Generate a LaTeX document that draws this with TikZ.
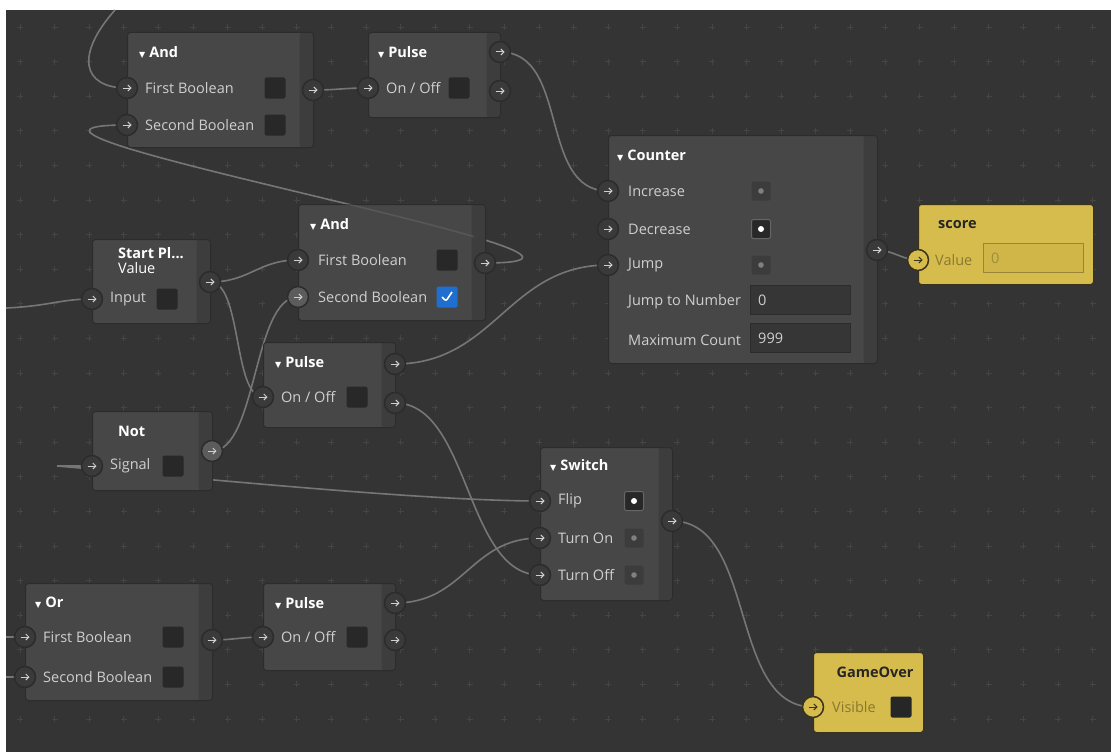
\documentclass[tikz,border=0pt]{standalone}
\usepackage{fontspec}
\setmainfont{Open Sans}
\newfontfamily\glyphfont{DejaVu Sans}
\usetikzlibrary{
    positioning,
    arrows.meta,
    backgrounds,
}
\definecolor{canvas}{HTML}{343434}
\definecolor{gridmark}{HTML}{454545}
\definecolor{nodefill}{HTML}{474747}
\definecolor{nodestrip}{HTML}{3D3D3D}
\definecolor{nodeedge}{HTML}{2C2C2C}
\definecolor{boxdark}{HTML}{282828}
\definecolor{labeltext}{HTML}{CFCFCF}
\definecolor{wiregray}{HTML}{767676}
\definecolor{portfill}{HTML}{3A3A3A}
\definecolor{portlit}{HTML}{5C5C5C}
\definecolor{varyellow}{HTML}{D6BC4C}
\definecolor{varfield}{HTML}{D0B548}
\definecolor{varedge}{HTML}{3A331C}
\definecolor{vartext}{HTML}{8A7830}
\definecolor{checkblue}{HTML}{1F6FD1}
\pgfdeclarelayer{wires}
\pgfsetlayers{background,wires,main}
\newcommand{\tri}{{\glyphfont\fontsize{8}{8}\selectfont ▼}\hspace{4pt}}
\tikzset{
    % Block styles
    block/.style={rectangle, draw=nodeedge, fill=nodefill, rounded corners=3pt,
                  anchor=north west, inner sep=0pt, line width=1pt,
                  path picture={\fill[nodestrip] ([xshift=-14pt]path picture bounding box.north east)
                                rectangle (path picture bounding box.south east);}},
    var block/.style={rectangle, draw=varedge, fill=varyellow, rounded corners=3pt,
                      anchor=north west, inner sep=0pt, line width=1pt},
    % Text styles
    title/.style={anchor=west, inner sep=0pt, text=white,
                  font=\fontsize{14.5}{16}\selectfont\bfseries},
    lbl/.style={anchor=west, inner sep=0pt, text=labeltext,
                font=\fontsize{14.5}{16}\selectfont},
    var title/.style={title, text=black!85},
    var lbl/.style={lbl, text=vartext},
    % Port styles
    port/.style={circle, draw=nodeedge, fill=portfill, line width=1.5pt,
                 minimum size=21pt, inner sep=0pt,
                 path picture={\draw[#1, line width=1pt, -{Straight Barb[length=3pt]}]
                     ([xshift=-4.5pt]path picture bounding box.center)
                     -- ([xshift=4.5pt]path picture bounding box.center);}},
    port/.default=labeltext,
    lit port/.style={port, fill=portlit},
    var port/.style={port=varedge, fill=varyellow, draw=varedge},
    % Input widgets
    check/.style={rectangle, fill=boxdark, rounded corners=2pt,
                  minimum size=21pt, inner sep=0pt},
    check on/.style={check, fill=checkblue,
                     path picture={\draw[white, line width=1.6pt]
                         ([shift={(-5,0)}]path picture bounding box.center)
                         -- ([shift={(-1,4)}]path picture bounding box.center)
                         -- ([shift={(5,-5)}]path picture bounding box.center);}},
    flag/.style={rectangle, fill=#1, rounded corners=2pt, minimum size=19pt, inner sep=0pt},
    flag off/.style={flag=nodefill!85!black,
                     path picture={\fill[gray] (path picture bounding box.center) circle (2.8pt);}},
    flag on/.style={flag=boxdark, draw=black!60, line width=1pt,
                    path picture={\fill[white] (path picture bounding box.center) circle (3pt);}},
    field/.style={rectangle, draw=nodeedge, fill=boxdark!55!nodefill, anchor=west,
                  minimum height=29pt, text width=84pt, inner xsep=8pt, align=left,
                  text=labeltext, font=\fontsize{14.5}{16}\selectfont},
    var field/.style={field, draw=varedge!40!varyellow, fill=varfield, text=vartext!70!varyellow},
    % Wire styles
    wire/.style={draw=wiregray, line width=1.6pt},
}

\begin{document}
\begin{tikzpicture}[x=1pt, y=-1pt]
    \useasboundingbox (0,0) rectangle (1111,752);

    % Canvas and grid
    \begin{pgfonlayer}{background}
        \fill[white] (0,0) rectangle (1111,752);
        \fill[canvas] (6,10) rectangle (1111,752);
        \foreach \i in {0,...,31}
            \foreach \j in {0,...,20}
                \draw[gridmark, line width=0.8pt] ({20+34.6*\i},{27+34.6*\j})
                    +(-3,0) -- +(3,0) +(0,-3) -- +(0,3);
    \end{pgfonlayer}

    % And (top)
    \node[block, minimum width=186pt, minimum height=115pt] (and1) at (127,32) {};
    \node[title] (and1title) at (139,52) {\tri And};
    \node[lbl] (and1l1) at (145,88) {First Boolean};
    \node[lbl] (and1l2) at (145,125) {Second Boolean};
    \node[check] (and1c1) at (275,88) {};
    \node[check] (and1c2) at (275,125) {};
    \node[port] (and1a) at (127,88) {};
    \node[port] (and1b) at (127,125) {};
    \node[port] (and1o) at (313,90) {};

    % Pulse (top)
    \node[block, minimum width=132pt, minimum height=85pt] (pulse1) at (368,32) {};
    \node[title] (pulse1title) at (378,52) {\tri Pulse};
    \node[lbl] (pulse1l) at (386,88) {On / Off};
    \node[check] (pulse1c) at (459,88) {};
    \node[port] (pulse1a) at (368,88) {};
    \node[port] (pulse1o1) at (500,52) {};
    \node[port] (pulse1o2) at (500,91) {};

    % Counter
    \node[block, minimum width=269pt, minimum height=228pt] (counter) at (608,135) {};
    \node[title] (countertitle) at (617,156) {\tri Counter};
    \foreach \y/\txt/\nm in {191/Increase/inc, 229/Decrease/dec, 265/Jump/jump} {
        \node[lbl] (counter\nm l) at (628,\y) {\txt};
        \node[port] (counter\nm) at (608,\y) {};
    }
    \node[flag off] (counterincf) at (761,191) {};
    \node[flag on] (counterdecf) at (761,229) {};
    \node[flag off] (counterjumpf) at (761,265) {};
    \node[lbl] (counterjtn) at (628,302) {Jump to Number};
    \node[field] (counterjtnv) at (750,300) {0};
    \node[lbl] (countermax) at (628,340) {Maximum Count};
    \node[field] (countermaxv) at (750,338) {999};
    \node[port] (countero) at (877,250) {};

    % score
    \node[var block, minimum width=175pt, minimum height=80pt] (score) at (918,204) {};
    \node[var title] (scoretitle) at (938,225) {score};
    \node[var lbl] (scorel) at (935,260) {Value};
    \node[var field] (scorev) at (983,258) {0};
    \node[var port] (scorein) at (918,260) {};

    % Start Pl... Value
    \node[block, minimum width=118pt, minimum height=84pt] (start) at (92,239) {};
    \node[title] (starttitle) at (118,253) {Start Pl...};
    \node[lbl, text=white] (startsub) at (118,268) {Value};
    \node[lbl] (startl) at (110,299) {Input};
    \node[check] (startc) at (167,299) {};
    \node[port] (starta) at (92,299) {};
    \node[port] (starto) at (210,282) {};

    % And (middle)
    \node[block, minimum width=187pt, minimum height=116pt] (and2) at (298,204) {};
    \node[title] (and2title) at (310,224) {\tri And};
    \node[lbl] (and2l1) at (318,260) {First Boolean};
    \node[lbl] (and2l2) at (318,297) {Second Boolean};
    \node[check] (and2c1) at (447,260) {};
    \node[check on] (and2c2) at (447,297) {};
    \node[port] (and2a) at (298,260) {};
    \node[lit port] (and2b) at (298,297) {};
    \node[port] (and2o) at (485,263) {};

    % Pulse (middle)
    \node[block, minimum width=132pt, minimum height=85pt] (pulse2) at (263,342) {};
    \node[title] (pulse2title) at (275,362) {\tri Pulse};
    \node[lbl] (pulse2l) at (281,397) {On / Off};
    \node[check] (pulse2c) at (357,397) {};
    \node[port] (pulse2a) at (263,397) {};
    \node[port] (pulse2o1) at (395,364) {};
    \node[port] (pulse2o2) at (395,403) {};

    % Not
    \node[block, minimum width=120pt, minimum height=79pt] (not) at (92,411) {};
    \node[title] (nottitle) at (118,431) {Not};
    \node[lbl] (notl) at (110,466) {Signal};
    \node[check] (notc) at (173,466) {};
    \node[port] (nota) at (92,466) {};
    \node[lit port] (noto) at (212,451) {};

    % Switch
    \node[block, minimum width=132pt, minimum height=153pt] (switch) at (540,447) {};
    \node[title] (switchtitle) at (550,465) {\tri Switch};
    \foreach \y/\txt/\nm in {501/Flip/flip, 538/Turn On/on, 575/Turn Off/off} {
        \node[lbl] (switch\nm l) at (558,\y) {\txt};
        \node[port] (switch\nm) at (540,\y) {};
    }
    \node[flag on] (switchflipf) at (634,501) {};
    \node[flag off] (switchonf) at (634,538) {};
    \node[flag off] (switchofff) at (634,575) {};
    \node[port] (switcho) at (672,521) {};

    % Or
    \node[block, minimum width=187pt, minimum height=117pt] (or) at (25,583) {};
    \node[title] (ortitle) at (35,603) {\tri Or};
    \node[lbl] (orl1) at (43,637) {First Boolean};
    \node[lbl] (orl2) at (43,677) {Second Boolean};
    \node[check] (orc1) at (173,637) {};
    \node[check] (orc2) at (173,677) {};
    \node[port] (ora) at (25,637) {};
    \node[port] (orb) at (25,677) {};
    \node[port] (oro) at (212,640) {};

    % Pulse (bottom)
    \node[block, minimum width=132pt, minimum height=87pt] (pulse3) at (263,583) {};
    \node[title] (pulse3title) at (275,603) {\tri Pulse};
    \node[lbl] (pulse3l) at (281,637) {On / Off};
    \node[check] (pulse3c) at (357,637) {};
    \node[port] (pulse3a) at (263,637) {};
    \node[port] (pulse3o1) at (395,603) {};
    \node[port] (pulse3o2) at (395,640) {};

    % GameOver
    \node[var block, minimum width=110pt, minimum height=80pt] (gameover) at (813,652) {};
    \node[var title, anchor=center] (gameovertitle) at (875,672) {GameOver};
    \node[var lbl] (gameoverl) at (832,707) {Visible};
    \node[check, fill=black!85] (gameoverc) at (901,707) {};
    \node[var port] (gameoverin) at (813,707) {};

    % Wires
    \coordinate (topsrc) at (115,10);
    \coordinate (leftsrc) at (6,308);
    \coordinate (sigsrc) at (57,466);
    \coordinate (orsrc1) at (6,637);
    \coordinate (orsrc2) at (6,677);
    \begin{pgfonlayer}{wires}
        \draw[wire] (topsrc) .. controls (75,55) and (82,88) .. (and1a.center);
        \draw[wire] (and1o.center) .. controls +(25,0) and +(-25,0) .. (pulse1a.center);
        \draw[wire] (pulse1o1.center) .. controls +(70,0) and +(-70,0) .. (counterinc.center);
        \draw[wire] (pulse2o1.center) .. controls +(100,0) and +(-100,0) .. (counterjump.center);
        \draw[wire] (and2o.center) .. controls +(215,0) and +(-215,0) .. (and1b.center);
        \draw[wire] (leftsrc) .. controls (50,306) and (60,299) .. (starta.center);
        \draw[wire] (starto.center) .. controls +(40,0) and +(-40,0) .. (and2a.center);
        \draw[wire] (starto.center) .. controls +(32,0) and +(-30,0) .. (pulse2a.center);
        \draw[wire] (noto.center) .. controls +(45,0) and +(-45,0) .. (and2b.center);
        \draw[wire] (sigsrc) -- (nota.center);
        \draw[wire] (sigsrc) .. controls +(120,10) and +(-120,0) .. (switchflip.center);
        \draw[wire] (pulse2o2.center) .. controls +(75,0) and +(-75,0) .. (switchoff.center);
        \draw[wire] (pulse3o1.center) .. controls +(70,0) and +(-70,0) .. (switchon.center);
        \draw[wire] (orsrc1) -- (ora.center);
        \draw[wire] (orsrc2) -- (orb.center);
        \draw[wire] (oro.center) .. controls +(20,0) and +(-20,0) .. (pulse3a.center);
        \draw[wire] (countero.center) .. controls +(15,0) and +(-15,0) .. (scorein.center);
        \draw[wire] (switcho.center) .. controls +(85,0) and +(-85,0) .. (gameoverin.center);
    \end{pgfonlayer}
    % faint part of the long wire seen over the middle And
    \begin{scope}
        \clip (and2.north west) rectangle ([xshift=-12pt]and2.south east);
        \draw[wire, opacity=0.35] (and2o.center) .. controls +(215,0) and +(-215,0) .. (and1b.center);
    \end{scope}
\end{tikzpicture}
\end{document}
